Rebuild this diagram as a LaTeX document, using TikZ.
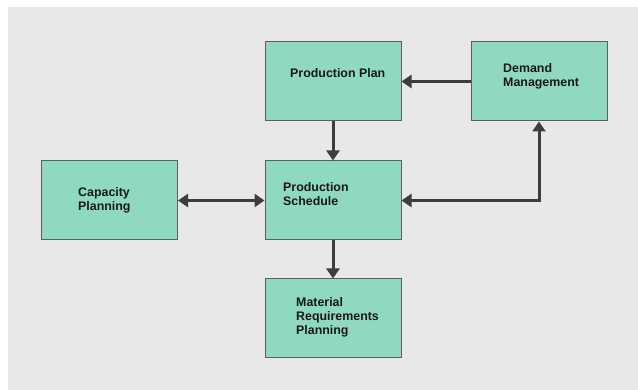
\documentclass[tikz,border=0pt]{standalone}
\usepackage{fontspec}
\setmainfont{Liberation Sans}
\usetikzlibrary{arrows.meta}
\definecolor{bgray}{HTML}{E8E8E8}
\definecolor{boxfill}{HTML}{8FD9BF}
\definecolor{boxline}{HTML}{5A5F5C}
\definecolor{arrowcol}{HTML}{3C3C42}
\begin{document}
\begin{tikzpicture}[x=1pt,y=-1pt,
  box/.style={draw=boxline, line width=1pt, fill=boxfill, minimum width=136pt, minimum height=79pt, inner sep=0pt},
  txt/.style={font=\fontsize{12.4}{14}\selectfont\bfseries, align=left, anchor=west, inner sep=0pt, text=black!90},
  arr/.style={draw=arrowcol, line width=3pt, -{Triangle[length=10pt,width=13pt]}},
  darr/.style={draw=arrowcol, line width=3pt, {Triangle[length=10pt,width=13pt]}-{Triangle[length=10pt,width=13pt]}}]
  \useasboundingbox (0,0) rectangle (638,390);
  \fill[white] (0,0) rectangle (638,390);
  \fill[bgray] (8,7) rectangle (638,390);

  % boxes
  \node[box] (plan)   at (333,81.5)  {};
  \node[box] (demand) at (539,81.5)  {};
  \node[box] (cap)    at (109.5,200.5) {};
  \node[box] (sched)  at (333,200.5) {};
  \node[box] (mrp)    at (333,318.5) {};

  % labels
  \node[txt] (tplan)   at (290,73)  {Production Plan};
  \node[txt] (tdemand) at (503,76.5)  {Demand\\Management};
  \node[txt] (tcap)    at (78,200)  {Capacity\\Planning};
  \node[txt] (tsched)  at (283,194) {Production\\Schedule};
  \node[txt] (tmrp)    at (296,317) {Material\\Requirements\\Planning};

  % connectors
  \draw[arr] (demand.west) -- (plan.east);
  \draw[arr] (plan.south) -- (sched.north);
  \draw[arr] (sched.south) -- (mrp.north);
  \draw[darr] (cap.east) -- (sched.west);
  \draw[darr] (demand.south) |- (sched.east);
\end{tikzpicture}
\end{document}
